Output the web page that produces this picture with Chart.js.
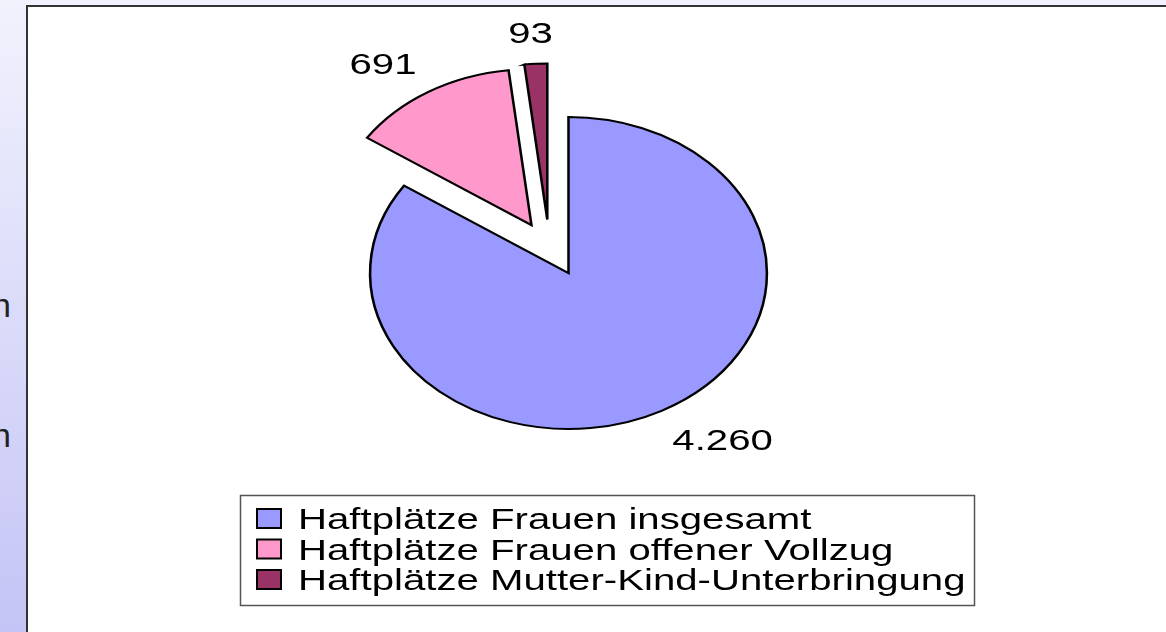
<!DOCTYPE html>
<html>
<head>
<meta charset="utf-8">
<script src="https://cdn.jsdelivr.net/npm/chart.js@4/dist/chart.umd.min.js"></script>
<style>
  html, body { margin: 0; padding: 0; }
  body {
    width: 1166px; height: 632px; overflow: hidden; position: relative;
    background: linear-gradient(to bottom, #f2f2fd, #c4c4f6);
    font-family: "Liberation Sans", Arial, sans-serif;
  }
  .side {
    position: absolute; left: -300px; width: 311px; text-align: right;
    font-size: 34px; color: #222; white-space: nowrap;
  }
  #panel {
    position: absolute; left: 26px; top: 5px; right: -4px; bottom: -4px;
    background: #fff; border-left: 2px solid #333; border-top: 2px solid #333;
  }
  #wrap { position: absolute; left: 0; top: 0; width: 1166px; height: 632px; }
</style>
</head>
<body>
<div class="side" style="top:286px">Frauen</div>
<div class="side" style="top:416px">Einrichtungen</div>
<div id="panel"></div>
<div id="wrap"><canvas id="pie"></canvas></div>
<script>
// Daten
const categories = ['Haftplätze Frauen insgesamt', 'Haftplätze Frauen offener Vollzug', 'Haftplätze Mutter-Kind-Unterbringung'];
const places = [4260, 691, 93];
const colors = ['#9999ff', '#ff99cc', '#993366'];

// Darstellung
const pieRadius = 156;
const pieStretch = 1.272;       // Torte ist horizontal gestreckt
const textStretch = 1.385;      // Schrift ebenso
const explode = [0, 56, 56];    // herausgezogene Stücke
const explodeTilt = [0, 0, -14];
const fontSize = 29;
const fontFamily = '"Liberation Sans", Arial, sans-serif';

function fmt(n) {
    return String(n).replace(/\B(?=(\d{3})+(?!\d))/g, '.');
}

function stretchedText(ctx, text, x, y) {
    ctx.save();
    ctx.translate(x, y);
    ctx.scale(textStretch, 1);
    ctx.fillText(text, 0, 0);
    ctx.restore();
}

function drawLabels(chart) {
    const ctx = chart.ctx;
    const ca = chart.chartArea;
    const cx = (ca.left + ca.right) / 2;
    const arcs = chart.getDatasetMeta(0).data;
    ctx.save();
    ctx.font = fontSize + 'px ' + fontFamily;
    ctx.fillStyle = '#000';
    ctx.textAlign = 'center';
    ctx.textBaseline = 'middle';
    arcs.forEach((arc, i) => {
        const mid = (arc.startAngle + arc.endAngle) / 2;
        const dx = Math.cos(mid), dy = Math.sin(mid);
        const r = arc.outerRadius + 18;
        const txt = fmt(chart.data.datasets[0].data[i]);
        const hw = ctx.measureText(txt).width * textStretch / pieStretch / 2;
        const hh = fontSize * 0.716 / 2 + (dy > 0 ? 5 : 0);
        const ox = Math.sign(dx) * Math.min(1, Math.abs(dx) * 3) * hw;
        const oy = Math.sign(dy) * Math.min(1, Math.abs(dy) * 3) * hh;
        const x = arc.x + dx * r + ox;
        const y = arc.y + dy * r + oy;
        stretchedText(ctx, txt, cx + (x - cx) * pieStretch, y);
    });
    ctx.restore();
}

function drawLegend(chart) {
    const ctx = chart.ctx;
    const ds = chart.data.datasets[0];
    const left = 240, top = 495, width = 734, height = 110;
    ctx.save();
    ctx.fillStyle = '#fff';
    ctx.fillRect(left, top, width, height);
    ctx.strokeStyle = '#555';
    ctx.lineWidth = 1.5;
    ctx.strokeRect(left + 0.5, top + 0.5, width, height);
    ctx.font = fontSize + 'px ' + fontFamily;
    ctx.textAlign = 'left';
    ctx.textBaseline = 'alphabetic';
    chart.data.labels.forEach((label, i) => {
        const base = top + 34 + i * 30.5;
        ctx.fillStyle = ds.backgroundColor[i];
        ctx.fillRect(left + 17, base - 20, 24, 19);
        ctx.strokeStyle = '#000';
        ctx.lineWidth = 2;
        ctx.strokeRect(left + 17, base - 20, 24, 19);
        ctx.fillStyle = '#000';
        stretchedText(ctx, label, left + 58, base);
    });
    ctx.restore();
}

const piePlugin = {
    id: 'stretchedPie',
    afterUpdate(chart) {
        const arcs = chart.getDatasetMeta(0).data;
        arcs.forEach((arc, i) => {
            const mid = (arc.startAngle + arc.endAngle) / 2 + explodeTilt[i] * Math.PI / 180;
            arc.x += Math.cos(mid) * explode[i];
            arc.y += Math.sin(mid) * explode[i];
        });
    },
    beforeDatasetsDraw(chart) {
        const ctx = chart.ctx;
        const ca = chart.chartArea;
        const cx = (ca.left + ca.right) / 2;
        ctx.save();
        ctx.translate(cx, 0);
        ctx.scale(pieStretch, 1);
        ctx.translate(-cx, 0);
    },
    afterDatasetsDraw(chart) {
        chart.ctx.restore();
        drawLabels(chart);
        drawLegend(chart);
    }
};

new Chart(document.getElementById('pie'), {
    type: 'pie',
    data: {
        labels: categories,
        datasets: [{
            data: places,
            backgroundColor: colors,
            borderColor: '#000',
            borderWidth: 2,
            borderJoinStyle: 'miter',
            clip: false
        }]
    },
    options: {
        responsive: true,
        maintainAspectRatio: false,
        devicePixelRatio: 1,
        animation: false,
        events: [],
        radius: pieRadius,
        layout: { padding: { left: 0, right: 29, top: 0, bottom: 86 } },
        plugins: {
            legend: { display: false },
            tooltip: { enabled: false }
        }
    },
    plugins: [piePlugin]
});
</script>
</body>
</html>
